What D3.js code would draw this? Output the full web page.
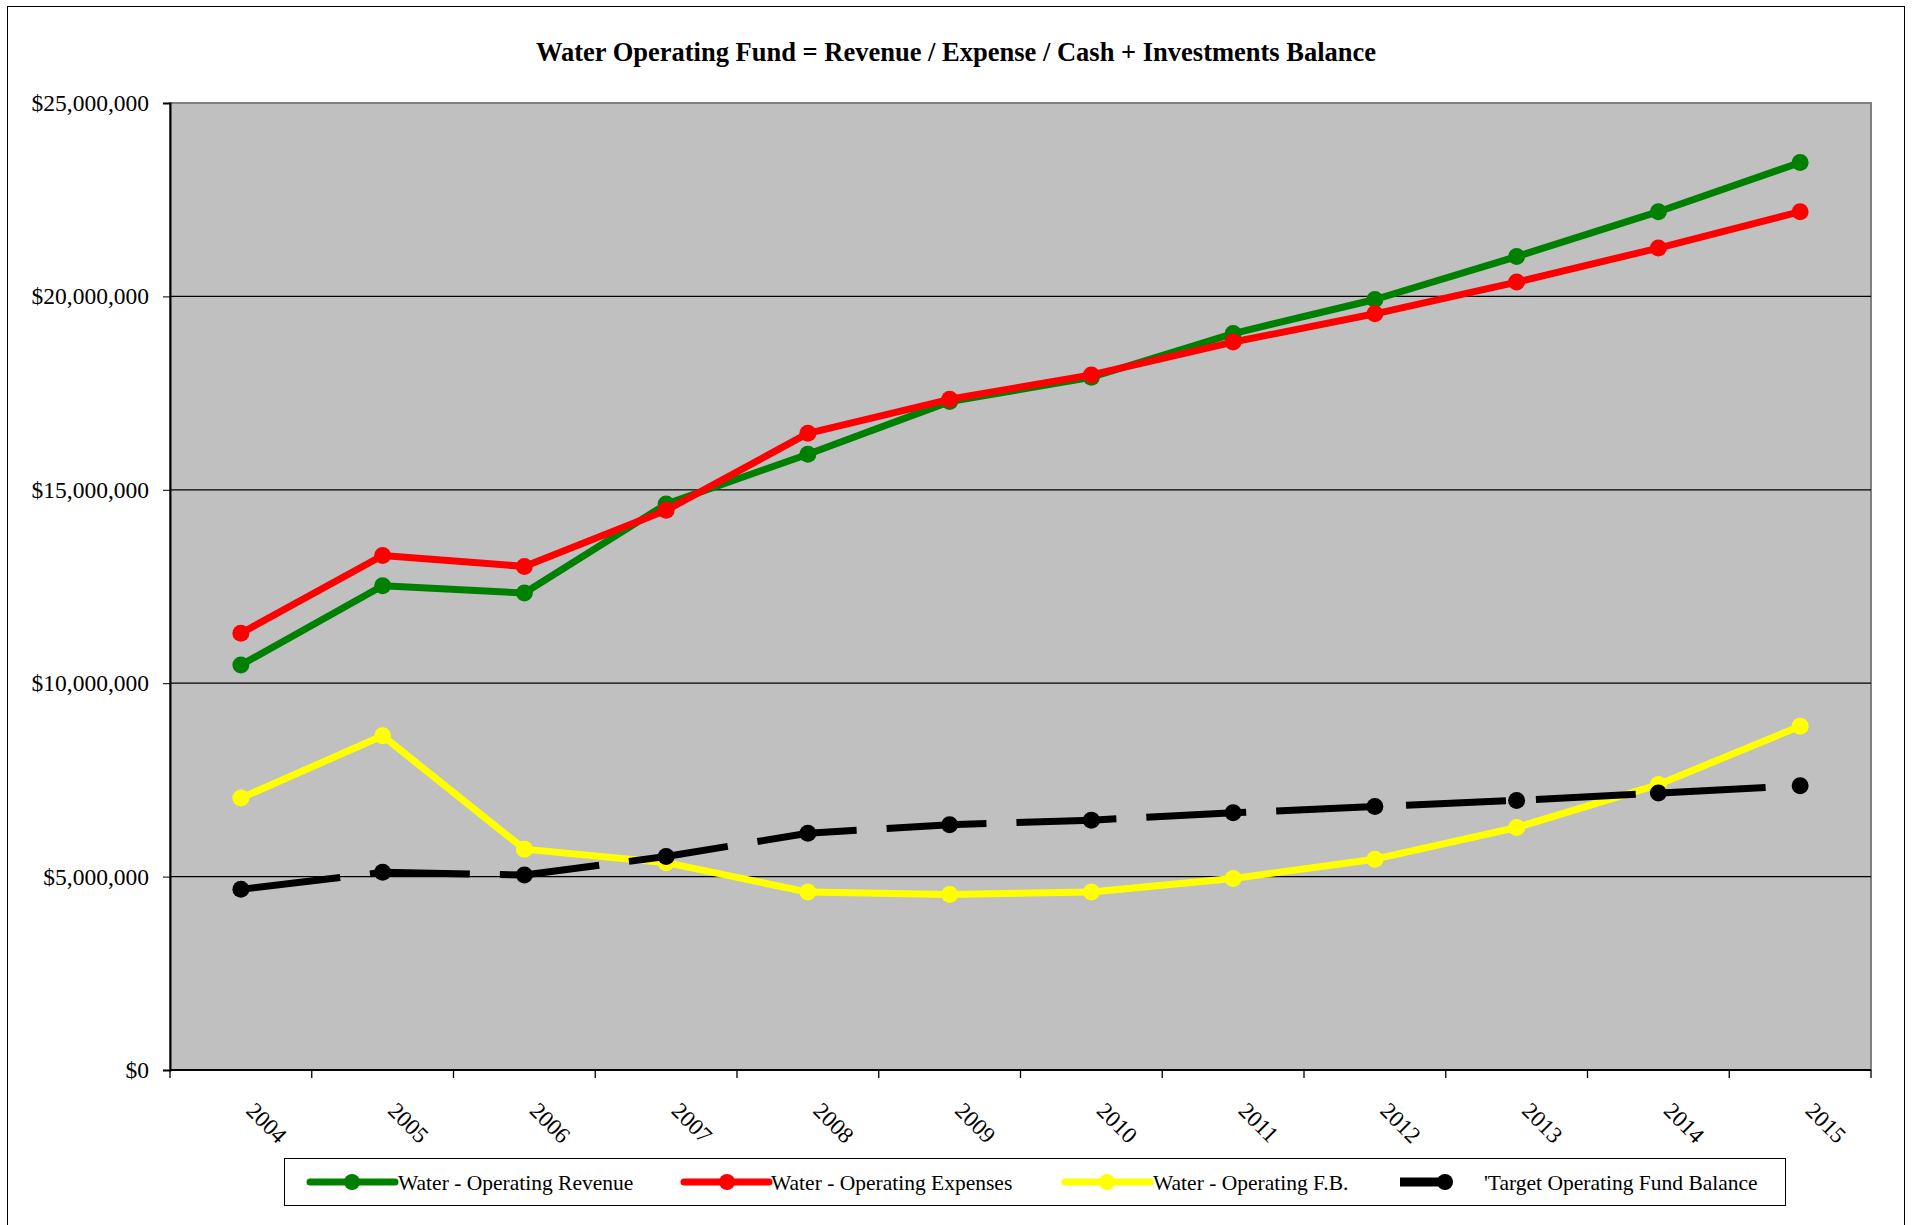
<!DOCTYPE html>
<html>
<head>
<meta charset="utf-8">
<script src="https://cdn.jsdelivr.net/npm/d3@7"></script>
<style>
  body { margin: 0; background: #fff; }
  text { font-family: "Liberation Serif", "Times New Roman", serif; fill: #000; }
</style>
</head>
<body>
<svg id="chart" width="1913" height="1225"></svg>
<script>
// values
const years = ["2004", "2005", "2006", "2007", "2008", "2009", "2010", "2011", "2012", "2013", "2014", "2015"];
const revenue = [10.47, 12.52, 12.33, 14.63, 15.92, 17.28, 17.91, 19.04, 19.92, 21.03, 22.19, 23.46];
const expenses = [11.29, 13.30, 13.02, 14.47, 16.46, 17.34, 17.97, 18.82, 19.55, 20.37, 21.25, 22.19];
const fundBalance = [7.03, 8.64, 5.71, 5.36, 4.60, 4.54, 4.60, 4.95, 5.45, 6.27, 7.38, 8.89];
const targetBalance = [4.67, 5.11, 5.04, 5.52, 6.12, 6.34, 6.46, 6.65, 6.81, 6.97, 7.16, 7.35];
const yTicks = [0, 5e6, 10e6, 15e6, 20e6, 25e6];

const seriesNames = ["Water - Operating Revenue", "Water - Operating Expenses", "Water - Operating F.B.", "'Target Operating Fund Balance"];
const seriesColors = ["#008000", "#ff0000", "#ffff00", "#000000"];
const seriesValues = [revenue, expenses, fundBalance, targetBalance];

const svg = d3.select("#chart");
const plotLeft = 170, plotRight = 1871, plotTop = 103, plotBottom = 1070;

// outer frame
svg.append("rect")
  .attr("x", 7.5).attr("y", 6.5)
  .attr("width", 1897).attr("height", 1240)
  .attr("fill", "none").attr("stroke", "#000").attr("stroke-width", 1);

svg.append("text")
  .attr("x", 956).attr("y", 61)
  .attr("text-anchor", "middle")
  .attr("font-size", 26.5).attr("font-weight", "bold")
  .text("Water Operating Fund = Revenue / Expense / Cash + Investments Balance");

const x = d3.scaleBand().domain(years).range([plotLeft, plotRight]);
const y = d3.scaleLinear().domain([0, 25e6]).range([plotBottom, plotTop]);

// plot area
svg.append("rect")
  .attr("x", plotLeft).attr("y", plotTop)
  .attr("width", plotRight - plotLeft).attr("height", plotBottom - plotTop)
  .attr("fill", "#c0c0c0")
  .attr("stroke", "#808080").attr("stroke-width", 2);

// gridlines
svg.append("g")
  .selectAll("line")
  .data(yTicks.filter(d => d > 0 && d < 25e6))
  .enter()
  .append("line")
  .attr("x1", plotLeft).attr("x2", plotRight)
  .attr("y1", d => y(d)).attr("y2", d => y(d))
  .attr("stroke", "#000").attr("stroke-width", 1.3);

// y axis
const yAxis = svg.append("g")
  .attr("transform", `translate(${plotLeft},0)`)
  .call(d3.axisLeft(y).tickValues(yTicks).tickFormat(d3.format("$,")).tickSize(7).tickPadding(14));
yAxis.select(".domain").attr("stroke", "#000").attr("stroke-width", 2);
yAxis.selectAll("text")
  .attr("font-size", 23.5)
  .style("font-family", '"Liberation Serif", "Times New Roman", serif');

// x axis line + boundary ticks
svg.append("line")
  .attr("x1", plotLeft).attr("x2", plotRight)
  .attr("y1", plotBottom).attr("y2", plotBottom)
  .attr("stroke", "#000").attr("stroke-width", 2);

const bounds = years.map(d => x(d)).concat([x(years[years.length - 1]) + x.bandwidth()]);
svg.append("g")
  .selectAll("line")
  .data(bounds)
  .enter()
  .append("line")
  .attr("x1", d => d).attr("x2", d => d)
  .attr("y1", plotBottom).attr("y2", plotBottom + 8)
  .attr("stroke", "#000").attr("stroke-width", 1.3);

svg.append("g")
  .selectAll("text")
  .data(years)
  .enter()
  .append("text")
  .attr("transform", d => `translate(${x(d) + x.bandwidth() / 2 + 4},${plotBottom + 42}) rotate(45)`)
  .attr("font-size", 23)
  .text(d => d);

// series
const line = d3.line()
  .x((d, i) => x(years[i]) + x.bandwidth() / 2)
  .y(d => y(d * 1e6));

seriesValues.forEach((vals, s) => {
  const g = svg.append("g");
  g.append("path")
    .datum(vals)
    .attr("d", line)
    .attr("fill", "none")
    .attr("stroke", seriesColors[s])
    .attr("stroke-width", 7)
    .attr("stroke-linejoin", "round")
    .attr("stroke-dasharray", s === 3 ? "100,30" : null);
  g.selectAll("circle")
    .data(vals)
    .enter()
    .append("circle")
    .attr("cx", (d, i) => x(years[i]) + x.bandwidth() / 2)
    .attr("cy", d => y(d * 1e6))
    .attr("r", 8.5)
    .attr("fill", seriesColors[s]);
});

// legend
const legendY = 1182;
svg.append("rect")
  .attr("x", 284.5).attr("y", 1158.5)
  .attr("width", 1501).attr("height", 47)
  .attr("fill", "#fff").attr("stroke", "#000").attr("stroke-width", 1);

const legendItems = [
  { x1: 310, x2: 395, mx: 352, tx: 398, cap: "round" },
  { x1: 684, x2: 769, mx: 727, tx: 771, cap: "round" },
  { x1: 1065, x2: 1150, mx: 1107, tx: 1153, cap: "round" },
  { x1: 1400, x2: 1447, mx: 1445, tx: 1484, cap: "butt" }
];

const leg = svg.append("g")
  .selectAll("g")
  .data(legendItems)
  .enter()
  .append("g");
leg.append("line")
  .attr("x1", d => d.x1).attr("x2", d => d.x2)
  .attr("y1", legendY).attr("y2", legendY)
  .attr("stroke", (d, i) => seriesColors[i])
  .attr("stroke-width", (d, i) => i === 3 ? 9 : 7)
  .attr("stroke-linecap", d => d.cap);
leg.append("circle")
  .attr("cx", d => d.mx).attr("cy", legendY)
  .attr("r", 8)
  .attr("fill", (d, i) => seriesColors[i]);
leg.append("text")
  .attr("x", d => d.tx).attr("y", legendY)
  .attr("dy", "0.35em")
  .attr("font-size", 21.5)
  .text((d, i) => seriesNames[i]);
</script>
</body>
</html>
